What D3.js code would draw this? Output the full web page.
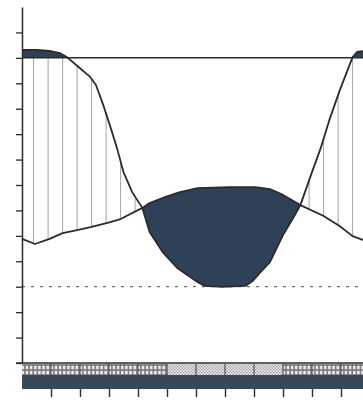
<!DOCTYPE html>
<html>
<head>
<meta charset="utf-8">
<script src="https://cdn.jsdelivr.net/npm/d3@7"></script>
<style>
  html, body { margin: 0; padding: 0; background: #fff; }
  svg { display: block; }
</style>
</head>
<body>
<svg id="chart" width="363" height="407"></svg>
<script>
// Curve A: high at both ends of the day, deep trough around midday (hour, level)
const hoursA = [0, 1, 1.9, 2.6, 3.1, 3.9, 4.7, 5.1, 5.6, 6.1, 6.55, 7.0, 7.6, 8.3, 8.8, 9.7,
                10.7, 11.4, 12.1, 12.6, 13.8, 15.4, 15.9, 16.4, 17.1, 18.0, 18.7, 19.2, 19.9,
                20.6, 21.2, 21.9, 22.8, 23.1, 24];
const levelA = [12.31, 12.31, 12.27, 12.19, 12.03, 11.64, 11.25, 10.93, 10.15, 9.28, 8.45, 7.51,
                6.72, 6.10, 5.15, 4.36, 3.74, 3.46, 3.19, 3.03, 2.99, 3.03, 3.22, 3.54, 3.97,
                5.03, 5.70, 6.21, 7.35, 8.45, 9.56, 10.70, 12.03, 12.23, 12.31];

// Curve B: low at both ends, gentle hump around midday (hour, level)
const hoursB = [0, 0.9, 1.9, 2.8, 3.8, 4.8, 5.9, 6.8, 8.3, 8.8, 9.9, 10.9, 12.1, 14.3, 16.1,
                17.1, 18.0, 19.2, 20.8, 21.9, 22.8, 23.5, 24];
const levelB = [4.88, 4.68, 4.88, 5.11, 5.23, 5.35, 5.51, 5.66, 6.10, 6.29, 6.53, 6.72, 6.88,
                6.92, 6.92, 6.84, 6.61, 6.21, 5.78, 5.39, 4.99, 4.84, 4.80];

// Reference levels
const upperLevel = 12;
const lowerLevel = 3;

// Axis ticks
const yTicks = d3.range(0, 14);
const xTicks = [2, 4, 6, 8, 10, 12, 14, 16, 18, 20, 22, 24];

// Two-hour blocks of the period strip under the axis
const blockStart = [0, 2, 4, 6, 8, 10, 12, 14, 16, 18, 20, 22];
const blockKind  = ["grid", "grid", "grid", "grid", "grid", "dots", "dots", "dots", "dots",
                    "grid", "grid", "grid"];

// Hourly hatch positions
const hatchHours = d3.range(0.8, 24, 1);

const W = 363, H = 407;
const x = d3.scaleLinear().domain([0, 24]).range([22, 370]);
const y = d3.scaleLinear().domain([0, 14]).range([363, 7]);

const svg = d3.select("#chart");
const A = hoursA.map((h, i) => [h, levelA[i]]);
const B = hoursB.map((h, i) => [h, levelB[i]]);

const defs = svg.append("defs");

function clipArea(id, data, toTop) {
  const area = d3.area()
    .x(d => x(d[0]))
    .y0(d => y(d[1]))
    .y1(toTop ? 0 : H);
  defs.append("clipPath").attr("id", id)
    .append("path").attr("d", area(data));
}
clipArea("aboveA", A, true);
clipArea("belowA", A, false);
clipArea("aboveB", B, true);
clipArea("belowB", B, false);
defs.append("clipPath").attr("id", "aboveUpper")
  .append("rect").attr("x", 0).attr("y", 0).attr("width", W).attr("height", y(upperLevel));
defs.append("clipPath").attr("id", "belowUpper")
  .append("rect").attr("x", 0).attr("y", y(upperLevel)).attr("width", W).attr("height", H);

// Strip patterns
const grid = defs.append("pattern").attr("id", "grid")
  .attr("patternUnits", "userSpaceOnUse").attr("width", 29 / 7).attr("height", 5);
grid.append("rect").attr("width", 29 / 7).attr("height", 5).attr("fill", "#7a7a7a");
grid.append("rect").attr("x", 0.9).attr("y", 0.9).attr("width", 2.5).attr("height", 3.3).attr("fill", "#eeeeee");

const dots = defs.append("pattern").attr("id", "dots")
  .attr("patternUnits", "userSpaceOnUse").attr("width", 3).attr("height", 3);
dots.append("rect").attr("width", 3).attr("height", 3).attr("fill", "#f4f4f4");
dots.append("rect").attr("x", 0).attr("y", 0).attr("width", 1.5).attr("height", 1.5).attr("fill", "#a0a0a0");
dots.append("rect").attr("x", 1.5).attr("y", 1.5).attr("width", 1.5).attr("height", 1.5).attr("fill", "#a0a0a0");

const fillDark = "#2f4156";
const ink = "#2b2b2b";

// Dashed lower reference line
svg.append("line")
  .attr("x1", x(0)).attr("x2", W)
  .attr("y1", y(lowerLevel)).attr("y2", y(lowerLevel))
  .attr("stroke", "#6e6e6e").attr("stroke-width", 1.3)
  .attr("stroke-dasharray", "3,6");

// Hatching where A lies above B (capped at the upper reference line)
svg.append("g").attr("clip-path", "url(#belowA)")
  .append("g").attr("clip-path", "url(#aboveB)")
  .append("g").attr("clip-path", "url(#belowUpper)")
  .selectAll("line").data(hatchHours).join("line")
    .attr("x1", d => x(d)).attr("x2", d => x(d))
    .attr("y1", y(14)).attr("y2", y(0))
    .attr("stroke", "#a3a3a3").attr("stroke-width", 1);

// Solid fill where B rises above A
svg.append("g").attr("clip-path", "url(#aboveA)")
  .append("g").attr("clip-path", "url(#belowB)")
  .append("rect").attr("x", 0).attr("y", 0).attr("width", W).attr("height", H)
  .attr("fill", fillDark);

// Solid fill where A exceeds the upper reference line
svg.append("g").attr("clip-path", "url(#belowA)")
  .append("g").attr("clip-path", "url(#aboveUpper)")
  .append("rect").attr("x", 0).attr("y", 0).attr("width", W).attr("height", H)
  .attr("fill", fillDark);

// Upper reference line
svg.append("line")
  .attr("x1", x(0)).attr("x2", W)
  .attr("y1", y(upperLevel)).attr("y2", y(upperLevel))
  .attr("stroke", ink).attr("stroke-width", 1.5);

// Curves
const line = d3.line().x(d => x(d[0])).y(d => y(d[1]));
svg.append("path").attr("d", line(A)).attr("fill", "none")
  .attr("stroke", ink).attr("stroke-width", 1.8).attr("stroke-linejoin", "round");
svg.append("path").attr("d", line(B)).attr("fill", "none")
  .attr("stroke", ink).attr("stroke-width", 1.8).attr("stroke-linejoin", "round");

// Period strip under the plot
const stripTop = 364, stripMid = 375, stripBottom = 389;
svg.append("g").selectAll("rect").data(blockStart).join("rect")
  .attr("x", d => x(d)).attr("width", d => x(d + 2) - x(d))
  .attr("y", stripTop).attr("height", stripMid - stripTop)
  .attr("fill", (d, i) => `url(#${blockKind[i]})`);
svg.append("g").selectAll("line").data(blockStart.slice(1)).join("line")
  .attr("x1", d => x(d)).attr("x2", d => x(d))
  .attr("y1", stripTop).attr("y2", stripMid)
  .attr("stroke", "#3a3a3a").attr("stroke-width", 1);
svg.append("rect")
  .attr("x", x(0)).attr("width", x(24) - x(0))
  .attr("y", stripMid).attr("height", stripBottom - stripMid)
  .attr("fill", "#384859");

// X axis baseline and ticks below the strip
svg.append("line")
  .attr("x1", x(0) - 6).attr("x2", W)
  .attr("y1", y(0)).attr("y2", y(0))
  .attr("stroke", ink).attr("stroke-width", 1.5);
const xAxis = svg.append("g")
  .attr("transform", `translate(0,${stripBottom})`)
  .call(d3.axisBottom(x).tickValues(xTicks).tickSize(8).tickSizeOuter(0).tickFormat(""));
xAxis.select(".domain").remove();
xAxis.selectAll(".tick line").attr("stroke", ink).attr("stroke-width", 1.4);

// Y axis
const yAxis = svg.append("g")
  .attr("transform", `translate(${x(0)},0)`)
  .call(d3.axisLeft(y).tickValues(yTicks).tickSize(6).tickSizeOuter(0).tickFormat(""));
yAxis.select(".domain").attr("stroke", ink).attr("stroke-width", 1.5);
yAxis.selectAll(".tick line").attr("stroke", ink).attr("stroke-width", 1.3);
</script>
</body>
</html>
